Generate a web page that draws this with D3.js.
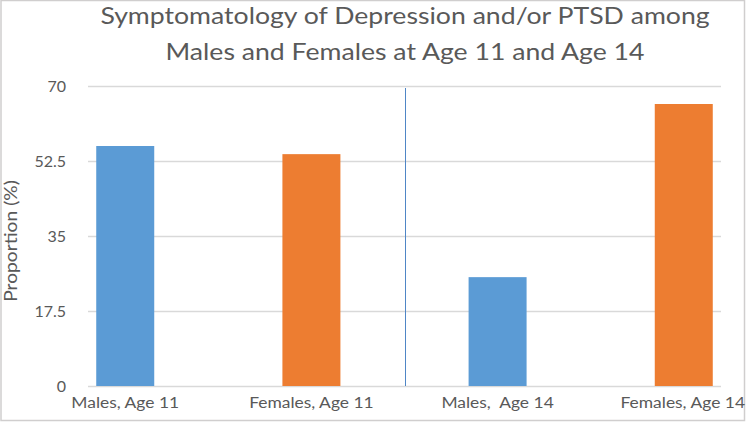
<!DOCTYPE html>
<html><head><meta charset="utf-8">
<script src="https://cdn.jsdelivr.net/npm/d3@7"></script>
<style>body{margin:0;background:#fff;}svg{display:block;font-family:Lato,"Open Sans",sans-serif;}</style>
</head><body>
<script>
const categories = ["Males, Age 11", "Females, Age 11", "Males,  Age 14", "Females, Age 14"];
const values = [56, 54.1, 25.4, 65.8];
const seriesColor = ["#5b9bd5", "#ed7d31", "#5b9bd5", "#ed7d31"];
const yTicks = [0, 17.5, 35, 52.5, 70];
const titleLines = ["Symptomatology of Depression and/or PTSD among", "Males and Females at Age 11 and Age 14"];
const yLabel = "Proportion (%)";

const W = 746, H = 423;
const mLeft = 88, mRight = 721, mTop = 86, mBottom = 386;
const svg = d3.select("body").append("svg").attr("width", W).attr("height", H);

svg.append("rect").attr("x",1).attr("y",0.5).attr("width",W-2.5).attr("height",H-3)
  .attr("fill","#fff").attr("stroke","#d0cece").attr("stroke-width",1.5);

const y = d3.scaleLinear().domain([0,70]).range([mBottom, mTop]);
const x = d3.scalePoint().domain(categories).range([mLeft, mRight]).padding(0.2);
const bw = 58;

svg.append("g").selectAll("line").data(yTicks).join("line")
  .attr("x1", mLeft).attr("x2", mRight)
  .attr("y1", d=>Math.round(y(d))+0.5).attr("y2", d=>Math.round(y(d))+0.5)
  .attr("stroke", "#d9d9d9").attr("stroke-width", 1.5);

svg.append("g").selectAll("text").data(yTicks).join("text")
  .attr("x", 66).attr("y", d=>y(d)+6).attr("text-anchor","end")
  .attr("font-size", 16).attr("fill", "#595959").text(d=>d);

svg.append("g").selectAll("rect").data(values).join("rect")
  .attr("x",(d,i)=>x(categories[i])-bw/2).attr("width",bw)
  .attr("y",d=>y(d)).attr("height",d=>y(0)-y(d))
  .attr("fill",(d,i)=>seriesColor[i]);

// separator between age groups
const sepX = Math.round((x(categories[1]) + x(categories[2]))/2)+0.5;
svg.append("line").attr("x1",sepX).attr("x2",sepX).attr("y1",88).attr("y2",mBottom)
  .attr("stroke","#4f86c6").attr("stroke-width",1);

svg.append("g").selectAll("text").data(categories).join("text")
  .attr("transform",(d,i)=>`translate(${x(d) - (i===categories.length-1 ? 1 : 0)},408) scale(1.09,1)`).attr("text-anchor","middle")
  .attr("font-size",16).attr("fill","#595959")
  .style("white-space","pre").text(d=>d);

svg.append("text").attr("transform",`translate(17,241) rotate(-90) scale(1.1,1)`)
  .attr("text-anchor","middle").attr("font-size",17.5).attr("fill","#595959").text(yLabel);

svg.append("g").selectAll("text").data(titleLines).join("text")
  .attr("transform",(d,i)=>`translate(405,${23.5+i*36.5}) scale(1.11,1)`).attr("text-anchor","middle")
  .attr("font-size",24).attr("fill","#595959").text(d=>d);
</script>
</body></html>
